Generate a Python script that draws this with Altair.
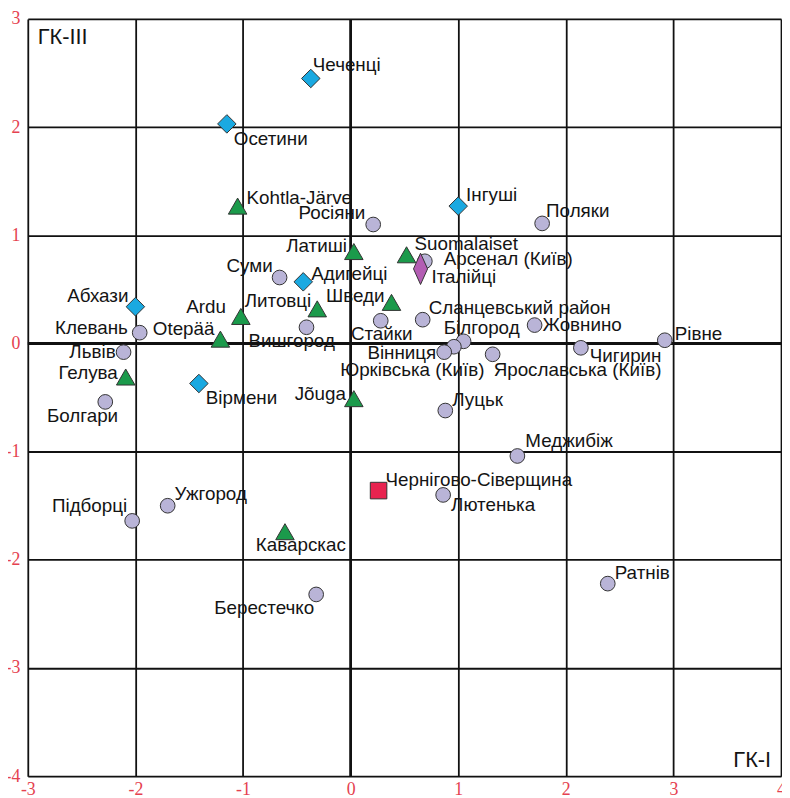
import altair as alt
import pandas as pd

# ---- data ----
names = [
    "Чеченці", "Осетини", "Інгуші", "Адигейці", "Абхази", "Вірмени",
    "Італійці", "Чернігово-Сіверщина",
    "Kohtla-Järve", "Латиші", "Suomalaiset", "Шведи", "Литовці", "Ardu",
    "Otepää", "Гелува", "Jõuga", "Каварскас",
    "Росіяни", "Поляки", "Арсенал (Київ)", "Суми", "Сланцевський район",
    "Стайки", "Вишгород", "Клевань", "Львів", "Болгари", "Білгород",
    "Юрківська (Київ)", "Вінниця", "Ярославська (Київ)", "Жовнино",
    "Чигирин", "Рівне", "Луцьк", "Меджибіж", "Лютенька", "Ратнів",
    "Ужгород", "Підборці", "Берестечко",
]
gk1 = [
    -0.37, -1.15, 1.00, -0.44, -2.00, -1.41,
    0.65, 0.26,
    -1.05, 0.03, 0.52, 0.38, -0.31, -1.02,
    -1.21, -2.09, 0.03, -0.61,
    0.21, 1.78, 0.69, -0.66, 0.67,
    0.28, -0.41, -1.96, -2.11, -2.28, 1.05,
    0.96, 0.87, 1.32, 1.71,
    2.14, 2.92, 0.88, 1.55, 0.86, 2.39,
    -1.70, -2.03, -0.32,
]
gk3 = [
    2.45, 2.03, 1.27, 0.57, 0.34, -0.37,
    0.69, -1.36,
    1.27, 0.85, 0.82, 0.38, 0.32, 0.25,
    0.04, -0.31, -0.51, -1.74,
    1.10, 1.11, 0.76, 0.61, 0.22,
    0.21, 0.15, 0.10, -0.08, -0.54, 0.02,
    -0.03, -0.08, -0.10, 0.17,
    -0.04, 0.03, -0.62, -1.04, -1.40, -2.22,
    -1.50, -1.64, -2.32,
]
groups = (["caucasus"] * 6 + ["italy", "chernihiv"] + ["baltic"] * 10
          + ["ukraine"] * 24)

x_ticks = [-3, -2, -1, 0, 1, 2, 3, 4]
y_ticks = [-4, -3, -2, -1, 0, 1, 2, 3]

# ---- label layout (alignment and pixel offsets from the point) ----
label_align = [
    "left", "left", "left", "left", "right", "left",
    "left", "left",
    "left", "right", "left", "right", "right", "right",
    "right", "right", "right", "center",
    "right", "left", "left", "right", "left",
    "center", "center", "right", "right", "center", "left",
    "center", "right", "left", "left",
    "left", "left", "left", "left", "left", "left",
    "left", "right", "right",
]
label_dx = [
    2, 7, 8, 8, -7, 7,
    11, 7,
    9, -7, 8, -7, -6, -15,
    -6, -8, -8, 16,
    -8, 4, 19, -7, 6,
    1, -15, -12, -8, -23, -20,
    -42, -8, 1, 8,
    9, 10, 7, 8, 8, 7,
    7, -5, -2,
]
label_dy = [
    -14, 15, -11, -8, -11, 15,
    8, -11,
    -8, -6, -11, -6, -8, -9,
    -10, -4, -5, 14,
    -12, -12, -2, -12, -12,
    13, 14, -5, 0, 14, -13,
    24, 1, 16, 0,
    8, -6, -11, -15, 10, -11,
    -12, -15, 14,
]

df = pd.DataFrame({
    "name": names, "gk1": gk1, "gk3": gk3, "group": groups,
    "align": label_align, "dx": label_dx, "dy": label_dy,
})

FONT = "Liberation Sans"
LABEL_RED = "#e5414f"
W, H = 761, 765
PX_X = W / (x_ticks[-1] - x_ticks[0])   # pixels per unit
PX_Y = H / (y_ticks[-1] - y_ticks[0])

x_scale = alt.Scale(domain=[x_ticks[0], x_ticks[-1]], nice=False, zero=False)
y_scale = alt.Scale(domain=[y_ticks[0], y_ticks[-1]], nice=False, zero=False)

x_axis = alt.Axis(values=x_ticks, grid=True, gridColor="#111", gridWidth=1.8,
                  gridOpacity=1, ticks=False, domain=False, title=None,
                  labelColor=LABEL_RED, labelFont="Liberation Serif",
                  labelFontSize=18, labelPadding=5, labelFlush=False,
                  labelOverlap=False, labelBound=False,
                  labelExpr="'' + datum.value")
y_axis = alt.Axis(values=y_ticks, grid=True, gridColor="#111", gridWidth=1.8,
                  gridOpacity=1, ticks=False, domain=False, title=None,
                  labelColor=LABEL_RED, labelFont="Liberation Serif",
                  labelFontSize=18, labelPadding=8, labelFlush=False,
                  labelOverlap=False, labelBound=False,
                  labelExpr="'' + datum.value")

base = alt.Chart(df)
X = alt.X("gk1:Q", scale=x_scale, axis=x_axis)
Y = alt.Y("gk3:Q", scale=y_scale, axis=y_axis)

zero_df = pd.DataFrame({"gk1": [0], "gk3": [0]})
zero_x = alt.Chart(zero_df).mark_rule(color="#111", strokeWidth=2.8).encode(x=X)
zero_y = alt.Chart(zero_df).mark_rule(color="#111", strokeWidth=2.8).encode(y=Y)

styles = {
    "ukraine": dict(shape="circle", fill="#b9b4d7", size=220),
    "baltic": dict(shape="triangle-up", fill="#1b9a4b", size=350),
    "caucasus": dict(shape="diamond", fill="#1aa9e1", size=350),
    "italy": dict(shape="M0,-1L0.45,0L0,1L-0.45,0Z", fill="#b35db3", size=1000),
    "chernihiv": dict(shape="square", fill="#e8234f", size=280),
}

point_layers = []
for g in ["ukraine", "baltic", "caucasus", "italy", "chernihiv"]:
    s = styles[g]
    point_layers.append(
        base.transform_filter(alt.datum.group == g).mark_point(
            shape=s["shape"], filled=True, fill=s["fill"], stroke="#333",
            strokeWidth=1, opacity=1, size=s["size"]
        ).encode(x=X, y=Y)
    )

text_layers = []
for a in ["left", "right", "center"]:
    text_layers.append(
        base.transform_filter(alt.datum.align == a).transform_calculate(
            lx=f"datum.gk1 + datum.dx / {PX_X}",
            ly=f"datum.gk3 - datum.dy / {PX_Y}",
        ).mark_text(
            align=a, baseline="middle", font=FONT, fontSize=19, color="#141414"
        ).encode(
            x=alt.X("lx:Q", scale=x_scale, axis=x_axis),
            y=alt.Y("ly:Q", scale=y_scale, axis=y_axis),
            text="name:N",
        )
    )

corner_df = pd.DataFrame({"t": ["ГК-III", "ГК-I"]})
gk3_title = alt.Chart(corner_df).transform_filter(alt.datum.t == "ГК-III").mark_text(
    align="left", baseline="middle", font=FONT, fontSize=22, color="#141414"
).encode(x=alt.value(10), y=alt.value(18), text="t:N")
gk1_title = alt.Chart(corner_df).transform_filter(alt.datum.t == "ГК-I").mark_text(
    align="right", baseline="middle", font=FONT, fontSize=22, color="#141414"
).encode(x=alt.value(751), y=alt.value(749), text="t:N")

chart = alt.layer(
    zero_x, zero_y, *point_layers, *text_layers, gk3_title, gk1_title
).properties(
    width=W, height=H,
    autosize=alt.AutoSizeParams(type="none"),
    padding={"left": 20, "top": 7, "right": 1, "bottom": 20},
).configure_view(
    stroke="#111", strokeWidth=1.8, fill="white"
).configure(background="white")

chart.save("out.html", embed_options={"renderer": "svg", "actions": False})
